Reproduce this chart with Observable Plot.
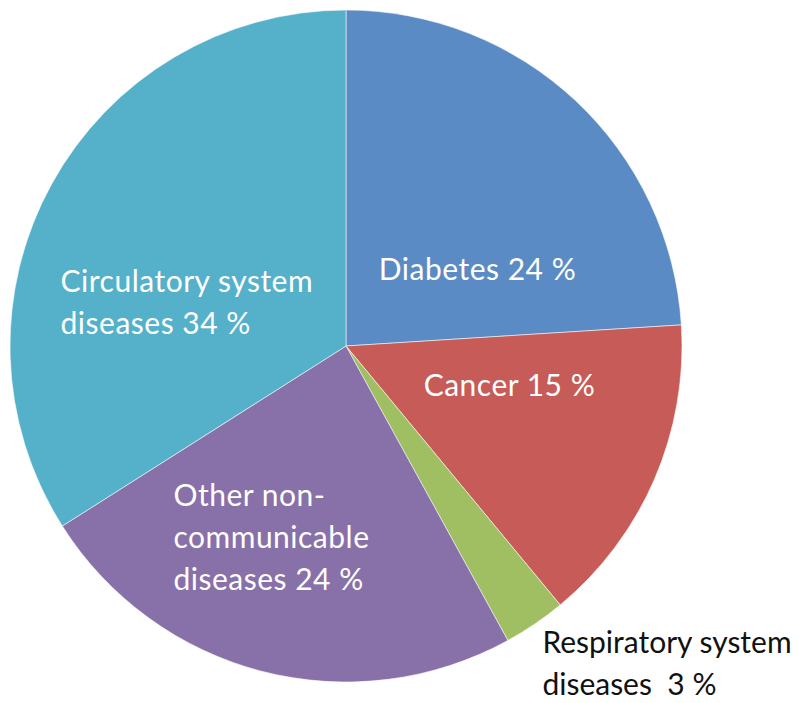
<!DOCTYPE html>
<html>
<head>
<meta charset="utf-8">
<script src="https://cdn.jsdelivr.net/npm/d3@7"></script>
<script src="https://cdn.jsdelivr.net/npm/@observablehq/plot@0.6"></script>
<style>
  html, body { margin: 0; padding: 0; background: #fff; }
  #chart svg { display: block; }
  #chart svg g.lbl-white text { letter-spacing: 0.5px; }
  #chart svg g.lbl-dark text { letter-spacing: 0px; }
</style>
</head>
<body>
<div id="chart"></div>
<script>
// ---- data ----
const categories = ["Diabetes", "Cancer", "Respiratory system diseases", "Other non-communicable diseases", "Circulatory system diseases"];
const shares = [24, 15, 3, 24, 34];
const labels = ["Diabetes 24 %", "Cancer 15 %", "Respiratory system\ndiseases\u00a0 3 %", "Other non-\ncommunicable\ndiseases 24 %", "Circulatory system\ndiseases 34 %"];
const colors = ["#5b8bc4", "#c65b57", "#a0bf62", "#8870a9", "#55b1ca"];

// ---- layout (label anchors in unit-circle coordinates) ----
const labelX = [0.39, 0.485, 0.583, -0.515, -0.851];
const labelY = [0.286, -0.059, -0.822, -0.387, 0.25];
const labelAnchor = ["middle", "middle", "start", "start", "start"];
const labelTone = ["white", "white", "dark", "white", "white"];

const rows = categories.map((c, i) => ({
  category: c, share: shares[i], label: labels[i], color: colors[i],
  lx: labelX[i], ly: labelY[i], anchor: labelAnchor[i], tone: labelTone[i]
}));

const pie = d3.pie().sort(null).value(d => d.share);
const arcs = pie(rows);

const cx = 346, cy = 346, R = 336;

function pieMark(index, scales) {
  const x = scales.x, y = scales.y;
  const ox = x(0), oy = y(0);
  const r = Math.abs(x(1) - x(0));
  const arc = d3.arc().innerRadius(0).outerRadius(r);
  const g = d3.create("svg:g").attr("transform", `translate(${ox},${oy})`);
  g.selectAll("path").data(arcs).join("path")
    .attr("d", arc)
    .attr("fill", d => d.data.color)
    .attr("stroke", "#ffffff")
    .attr("stroke-opacity", 0.55)
    .attr("stroke-width", 1);
  return g.node();
}

const textMarks = [];
for (const a of ["start", "middle"]) {
  for (const t of ["white", "dark"]) {
    const subset = rows.filter(d => d.anchor === a && d.tone === t);
    if (!subset.length) continue;
    textMarks.push(Plot.text(subset, {
      x: "lx", y: "ly", text: "label",
      textAnchor: a, lineAnchor: "top", lineHeight: 1.4,
      fontSize: 30, fill: t === "white" ? "#ffffff" : "#111111",
      className: "lbl-" + t
    }));
  }
}

const plot = Plot.plot({
  width: 799,
  height: 703,
  margin: 0,
  x: { domain: [-1, 1], range: [cx - R, cx + R], axis: null },
  y: { domain: [1, -1], range: [cy - R, cy + R], axis: null },
  style: { fontFamily: "Lato, 'Open Sans', sans-serif", background: "#fff" },
  marks: [pieMark, ...textMarks]
});
document.getElementById("chart").appendChild(plot);
</script>
</body>
</html>
